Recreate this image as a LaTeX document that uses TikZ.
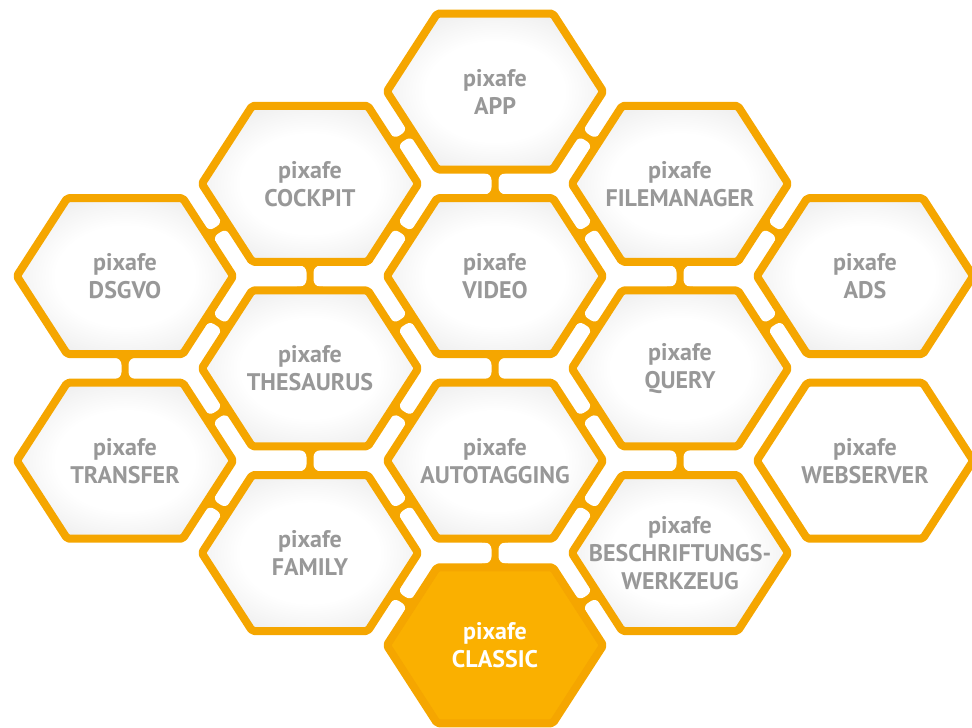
\documentclass[tikz,border=0pt]{standalone}
\usepackage{fontspec}
\setmainfont{PT Sans}
\definecolor{hexorange}{RGB}{245,166,0}
\definecolor{classicfill}{RGB}{250,176,0}
\definecolor{labelgray}{RGB}{152,152,152}
\pgfdeclareradialshading{hexglow}{\pgfpoint{0bp}{0bp}}{color(0bp)=(white); color(16bp)=(white); color(36bp)=(black!11); color(50bp)=(black!27); color(100bp)=(black!27)}
\tikzset{
  hexcell/.style={draw=hexorange, line width=8pt, line join=round, rounded corners=2pt, shade, shading=hexglow},
  hexplain/.style={draw=hexorange, line width=8pt, line join=round, rounded corners=2pt, fill=white},
  hexmain/.style={draw=hexorange, line width=8pt, line join=round, rounded corners=2pt, fill=classicfill},
  lbl/.style={align=center, text=labelgray, font=\bfseries\fontsize{24}{28}\selectfont},
  lblmain/.style={align=center, text=white, font=\bfseries\fontsize{24}{28}\selectfont}
}
\newcommand{\hexat}[3]{%
  \path[#3, shift={(#1,-#2)}] (108.2,0) -- (57.8,78) -- (-57.8,78) -- (-108.2,0) -- (-57.8,-78) -- (57.8,-78) -- cycle;}
% bridge: x, y (pixel), ux, uy, nx, ny, half gap, corner radius
\newcommand{\bridgeat}[8]{%
  \begin{scope}[cm={#3,#4,#5,#6,(#1,-#2)}]
    \fill[hexorange] (-13,-#7-3) rectangle (13,#7+3);
    \fill[white, rounded corners=#8] (3.5,-#7-0.3) rectangle (30,#7+0.3);
    \fill[white, rounded corners=#8] (-3.5,-#7-0.3) rectangle (-30,#7+0.3);
  \end{scope}}
\newcommand{\vbridge}[2]{\bridgeat{#1}{#2}{1}{0}{0}{1}{10.3}{7pt}}
\newcommand{\abridge}[2]{\bridgeat{#1}{#2}{0.543}{0.840}{-0.840}{0.543}{7.8}{6pt}}
\newcommand{\bbridge}[2]{\bridgeat{#1}{#2}{0.543}{-0.840}{0.840}{0.543}{7.8}{6pt}}
\begin{document}
\begin{tikzpicture}[x=1pt,y=1pt]
\useasboundingbox (0,0) rectangle (972,-728);
\clip (0,0) rectangle (972,-728);
% bridges (vertical)
\vbridge{495}{183.8}
\vbridge{495}{368.4}
\vbridge{495}{553}
\vbridge{310}{276.1}
\vbridge{310}{460.7}
\vbridge{680}{276.1}
\vbridge{680}{460.7}
\vbridge{125}{368.4}
% bridges (down-right)
\abridge{402.5}{229.95}
\abridge{587.5}{137.65}
\abridge{772.5}{229.95}
\abridge{217.5}{322.25}
\abridge{587.5}{322.25}
\abridge{402.5}{414.55}
\abridge{217.5}{506.85}
\abridge{587.5}{506.85}
\abridge{402.5}{599.15}
% bridges (up-right)
\bbridge{402.5}{137.65}
\bbridge{217.5}{229.95}
\bbridge{587.5}{229.95}
\bbridge{402.5}{322.25}
\bbridge{772.5}{322.25}
\bbridge{217.5}{414.55}
\bbridge{587.5}{414.55}
\bbridge{402.5}{506.85}
\bbridge{587.5}{599.15}
% hexagons
\hexat{495}{91.5}{hexcell}
\hexat{310}{183.8}{hexcell}
\hexat{680}{183.8}{hexcell}
\hexat{125}{276.1}{hexcell}
\hexat{495}{276.1}{hexcell}
\hexat{865}{276.1}{hexcell}
\hexat{310}{368.4}{hexcell}
\hexat{680}{368.4}{hexcell}
\hexat{125}{460.7}{hexcell}
\hexat{495}{460.7}{hexcell}
\hexat{865}{460.7}{hexplain}
\hexat{310}{553}{hexcell}
\hexat{680}{553}{hexcell}
\hexat{495}{645.3}{hexmain}
% labels
\node[lbl] (app) at (495,-91.5) {pixafe\\APP};
\node[lbl] (cockpit) at (310,-183.8) {pixafe\\COCKPIT};
\node[lbl] (filemanager) at (680,-183.8) {pixafe\\FILEMANAGER};
\node[lbl] (dsgvo) at (125,-276.1) {pixafe\\DSGVO};
\node[lbl] (video) at (495,-276.1) {pixafe\\VIDEO};
\node[lbl] (ads) at (865,-276.1) {pixafe\\ADS};
\node[lbl] (thesaurus) at (310,-368.4) {pixafe\\THESAURUS};
\node[lbl] (query) at (680,-368.4) {pixafe\\QUERY};
\node[lbl] (transfer) at (125,-460.7) {pixafe\\TRANSFER};
\node[lbl] (autotagging) at (495,-460.7) {pixafe\\AUTOTAGGING};
\node[lbl] (webserver) at (865,-460.7) {pixafe\\WEBSERVER};
\node[lbl] (family) at (310,-553) {pixafe\\FAMILY};
\node[lbl] (beschriftung) at (680,-553) {pixafe\\BESCHRIFTUNGS-\\WERKZEUG};
\node[lblmain] (classic) at (495,-645.3) {pixafe\\CLASSIC};
\end{tikzpicture}
\end{document}
